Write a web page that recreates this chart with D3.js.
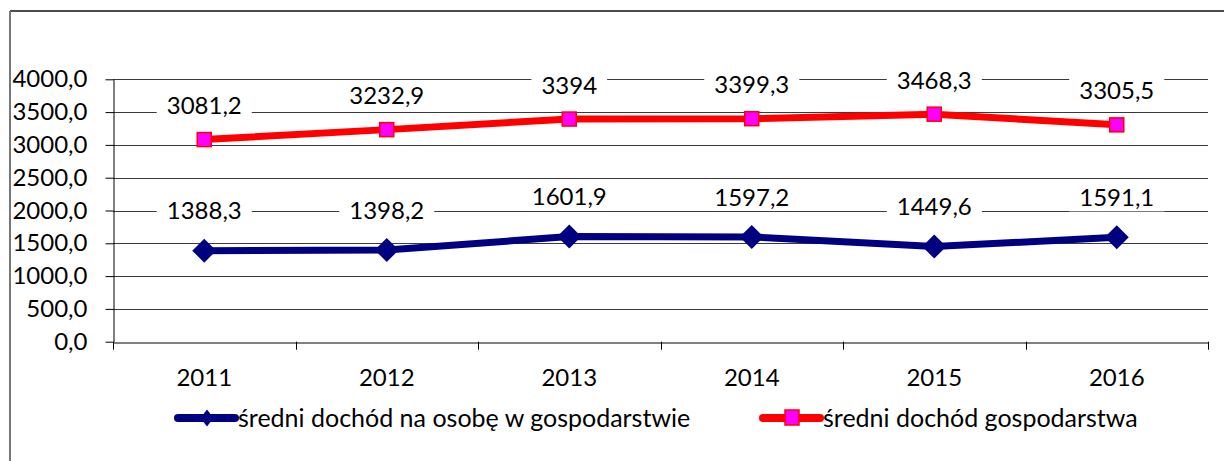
<!DOCTYPE html>
<html>
<head>
<meta charset="utf-8">
<script src="https://cdn.jsdelivr.net/npm/d3@7"></script>
<style>
  body{margin:0;background:#fff;}
  svg{display:block;}
  text{font-family:Lato,"Open Sans",sans-serif;fill:#000;}
</style>
</head>
<body>
<svg id="display" width="1224" height="461"></svg>
<script>
// chart data
const years=["2011","2012","2013","2014","2015","2016"];
const per_person=[1388.3,1398.2,1601.9,1597.2,1449.6,1591.1];
const household=[3081.2,3232.9,3394,3399.3,3468.3,3305.5];
const y_ticks=[0,500,1000,1500,2000,2500,3000,3500,4000];
const series_names=["średni dochód na osobę w gospodarstwie","średni dochód gospodarstwa"];

const display=d3.select("#display");
const plot_left=113, plot_right=1208, plot_top=79.3, plot_bottom=341.7;
const font_size="24px";

// outer frame (clipped on right/bottom)
display.append("line").attr("x1",10).attr("y1",11).attr("x2",1224).attr("y2",11)
    .attr("stroke","#111").attr("stroke-width",1.5);
display.append("line").attr("x1",10).attr("y1",11).attr("x2",10).attr("y2",461)
    .attr("stroke","#777").attr("stroke-width",2);

const x=d3.scaleBand().domain(years).range([plot_left,plot_right]);
const y=d3.scaleLinear().domain([0,4000]).range([plot_bottom,plot_top]);

// gridlines
display.append("g").selectAll("line").data(y_ticks.filter(d=>d>0)).join("line")
    .attr("x1",plot_left).attr("x2",plot_right)
    .attr("y1",d=>Math.round(y(d))+0.5).attr("y2",d=>Math.round(y(d))+0.5)
    .attr("stroke","#3a3a3a").attr("stroke-width",1);

// y axis
const y_axis=display.append("g")
    .attr("transform","translate("+(plot_left+0.5)+",0)")
    .call(d3.axisLeft(y).tickValues(y_ticks).tickSize(8).tickSizeOuter(0)
        .tickFormat(d=>d3.format(".1f")(d).replace(".",",")));
y_axis.select(".domain").attr("stroke","#000");
y_axis.selectAll(".tick line").attr("stroke","#000");
y_axis.selectAll(".tick text").attr("x",-26).style("font-size",font_size).style("font-family","Lato");

// x axis
const x_axis=display.append("g")
    .attr("transform","translate(0,"+(Math.round(plot_bottom)+0.5)+")")
    .call(d3.axisBottom(x).tickSize(0).tickSizeOuter(0));
x_axis.select(".domain").attr("stroke","#000");
x_axis.selectAll(".tick text").attr("y",26).style("font-size",font_size).style("font-family","Lato");
// category boundary ticks
const bounds=years.map(d=>x(d)).concat([plot_right]);
display.append("g").selectAll("line").data(bounds).join("line")
    .attr("x1",d=>Math.round(d)+0.5).attr("x2",d=>Math.round(d)+0.5)
    .attr("y1",plot_bottom).attr("y2",plot_bottom+8)
    .attr("stroke","#000");

const cx=d=>x(d)+x.bandwidth()/2;

function draw_series(values,color,label_offset){
    const line=d3.line().x((v,i)=>cx(years[i])).y(v=>y(v));
    display.append("path").datum(values)
        .attr("d",line).attr("fill","none")
        .attr("stroke",color).attr("stroke-width",7)
        .attr("stroke-linejoin","round");
    // data labels with white box
    const labels=display.append("g");
    values.forEach((v,i)=>{
        const g=labels.append("g")
            .attr("transform","translate("+cx(years[i])+","+(y(v)-label_offset)+")");
        const t=g.append("text").attr("text-anchor","middle").attr("dy","0.36em")
            .style("font-size",font_size).text(String(v).replace(".",","));
        const w=t.node().getComputedTextLength();
        g.insert("rect","text").attr("x",-w/2-10).attr("y",-14).attr("width",w+20).attr("height",28)
            .attr("fill","#fff");
    });
}

draw_series(per_person,"#000080",40);
draw_series(household,"#ff0000",34);

// markers
display.append("g").selectAll("path").data(per_person).join("path")
    .attr("transform",(v,i)=>"translate("+cx(years[i])+","+y(v)+")")
    .attr("d","M0,-12L12,0L0,12L-12,0Z").attr("fill","#000080");
display.append("g").selectAll("rect").data(household).join("rect")
    .attr("x",(v,i)=>cx(years[i])-7).attr("y",v=>y(v)-7)
    .attr("width",14).attr("height",14)
    .attr("fill","#ff00ff").attr("stroke","#ff0000").attr("stroke-width",1.5);

// legend
const legend_y=418;
const legend=[{x:178,color:"#000080",name:series_names[0],marker:"diamond"},
              {x:763,color:"#ff0000",name:series_names[1],marker:"square"}];
for (const item of legend){
    display.append("line").attr("x1",item.x).attr("x2",item.x+57)
        .attr("y1",legend_y).attr("y2",legend_y)
        .attr("stroke",item.color).attr("stroke-width",8).attr("stroke-linecap","round");
    if (item.marker==="diamond"){
        display.append("path").attr("transform","translate("+(item.x+29)+","+legend_y+")")
            .attr("d","M0,-8.5L6.5,0L0,8.5L-6.5,0Z").attr("fill",item.color);
    }
    else{
        display.append("rect").attr("x",item.x+22).attr("y",legend_y-8)
            .attr("width",14).attr("height",15)
            .attr("fill","#ff00ff").attr("stroke","#ff0000").attr("stroke-width",1.5);
    }
    display.append("text").attr("x",item.x+60).attr("y",legend_y).attr("dy","0.36em")
        .style("font-size","25px").text(item.name);
}
</script>
</body>
</html>
